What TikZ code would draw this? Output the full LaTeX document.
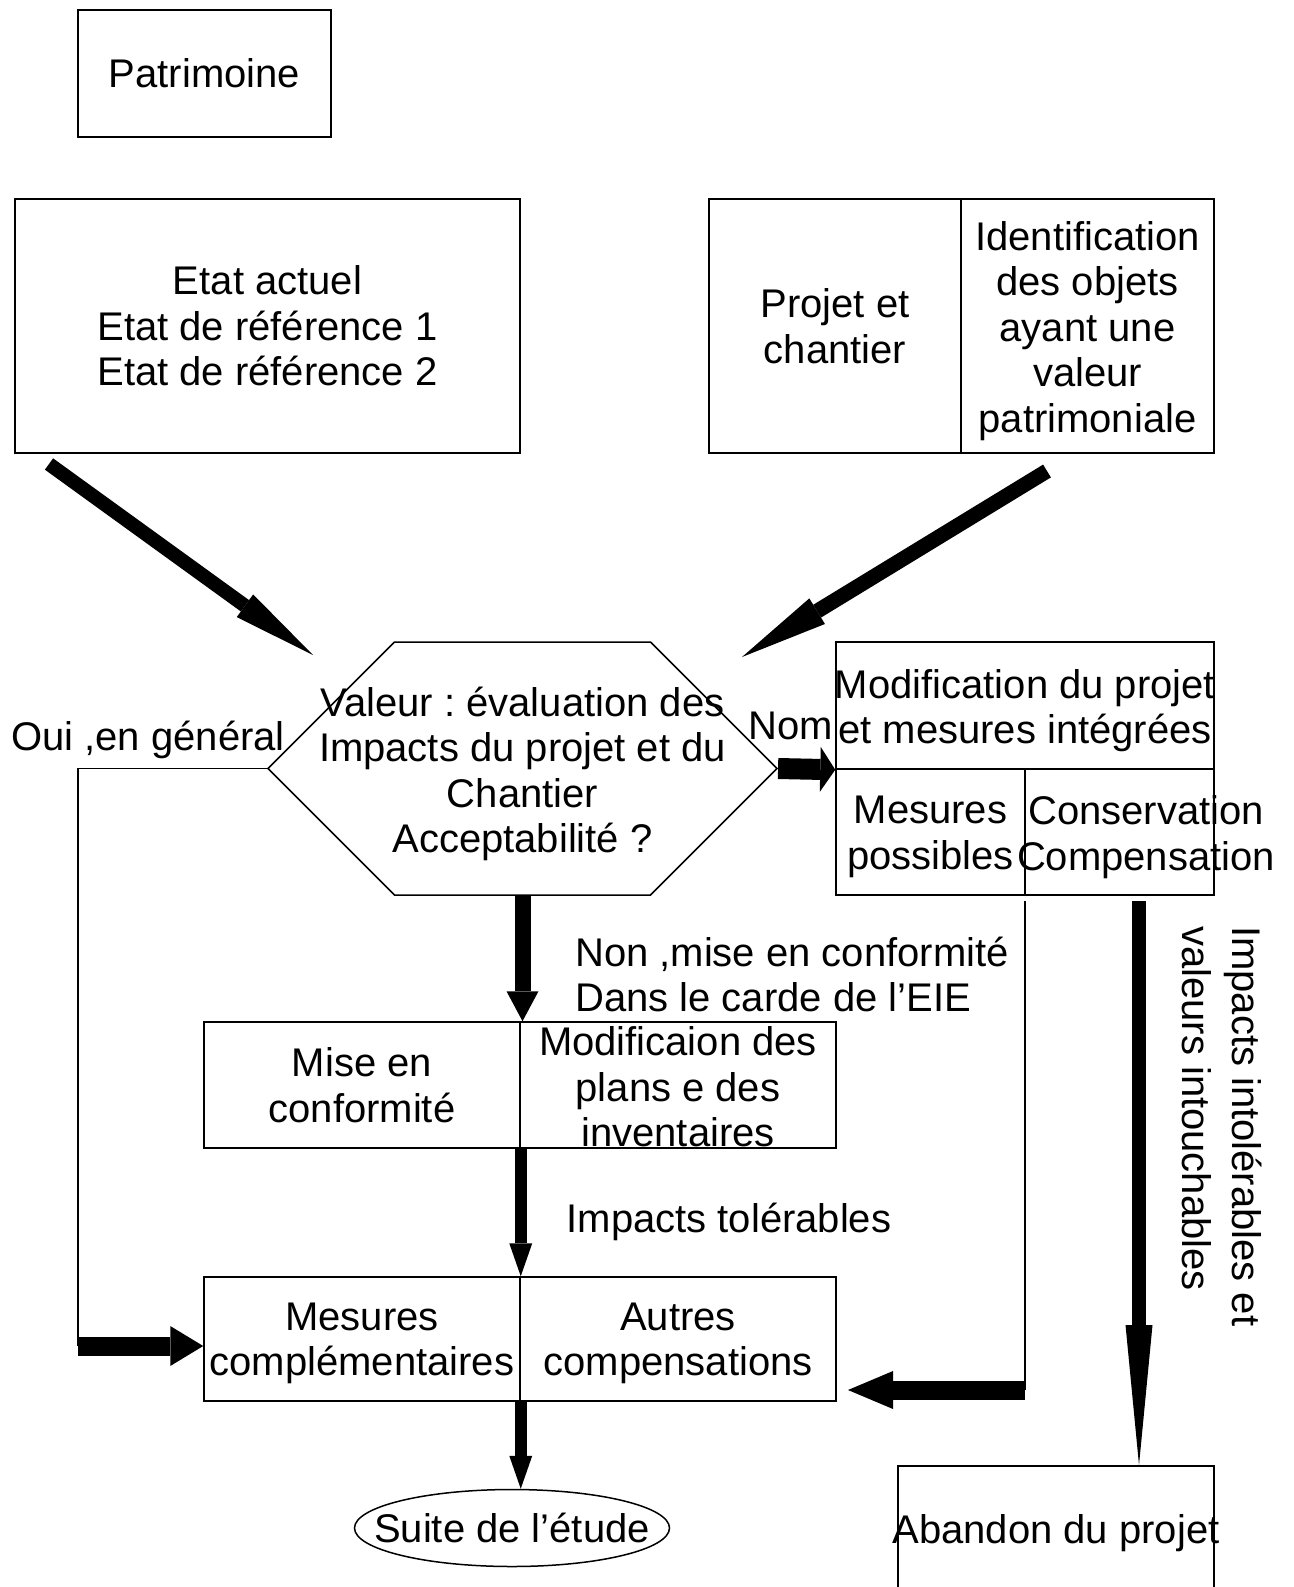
\documentclass[tikz,border=0pt]{standalone}
\usepackage{fontspec}
\setmainfont{Liberation Sans}
\frenchspacing
\usetikzlibrary{arrows.meta,shapes.geometric,shapes.symbols}

\tikzset{
  boite/.style={draw, line width=1.5pt, inner sep=0pt, align=center},
  txt/.style={inner sep=0pt, align=center},
  trait/.style={line width=1.5pt},
  fleche/.style n args={3}{line width=#1, -{Triangle[length=#2, width=#3, line width=0pt]}},
}

\begin{document}
\begin{tikzpicture}[x=1pt, y=-1pt, font=\fontsize{40}{45.5}\selectfont]
  \useasboundingbox (0,0) rectangle (1293,1587);
  \clip (0,0) rectangle (1293,1587);

  % Drawing box Patrimoine
  \node[boite, minimum width=253pt, minimum height=127pt] (patri) at (204.5,73.5) {Patrimoine};

  % Drawing box etat
  \node[boite, minimum width=505pt, minimum height=254pt] (etat) at (267.5,326) {Etat actuel\\Etat de référence 1\\Etat de référence 2};

  % Drawing boxes projet and ident
  \node[boite, minimum width=252pt, minimum height=254pt] (projet) at (835,326) {Projet et\\chantier};
  \node[boite, minimum width=253pt, minimum height=254pt] (ident) at (1087.5,326) {};
  \node[txt] (identT) at (1087.5,331) {Identification\\des objets\\ayant une\\valeur\\patrimoniale};

  % Drawing hexagon valeur
  \node[draw, line width=1.5pt, inner sep=0pt, signal, signal to=east and west, signal pointer angle=90,
        minimum width=509pt, minimum height=253pt] (valeur) at (522.5,768.5) {};
  \node[txt] (valeurT) at (522.5,774) {Valeur : évaluation des\\Impacts du projet et du\\Chantier\\Acceptabilité ?};

  % Drawing boxes modif, mesp, cons
  \node[boite, minimum width=378pt, minimum height=127pt] (modif) at (1025,705.5) {};
  \node[txt] (modifT) at (1025,710.5) {Modification du projet\\et mesures intégrées};
  \node[boite, minimum width=189pt, minimum height=126pt] (mesp) at (930.5,832) {};
  \node[txt] (mespT) at (930.5,837) {Mesures\\possibles};
  \node[boite, minimum width=189pt, minimum height=126pt] (cons) at (1119.5,832) {};
  \node[txt] (consT) at (1146,837) {Conservation\\Compensation};

  % Drawing boxes mise
  \node[boite, minimum width=316pt, minimum height=126pt] (miseL) at (362,1085) {Mise en\\conformité};
  \node[boite, minimum width=316pt, minimum height=126pt] (miseR) at (678,1085) {};
  \node[txt] (miseRT) at (678,1087) {Modificaion des\\plans e des\\inventaires};

  % Drawing boxes mesures
  \node[boite, minimum width=316pt, minimum height=124pt] (mesL) at (362,1339) {};
  \node[txt] (mesLT) at (362,1343.5) {Mesures\\complémentaires};
  \node[boite, minimum width=316pt, minimum height=124pt] (mesR) at (678,1339) {};
  \node[txt] (mesRT) at (678,1343.5) {Autres\\compensations};

  % Drawing suite and abandon
  \node[draw, ellipse, line width=1.5pt, inner sep=0pt, minimum width=315pt, minimum height=77pt] (suite) at (512,1528) {};
  \node[txt] (suiteT) at (512,1528) {Suite de l’étude};
  \node[boite, minimum width=316pt, minimum height=200pt, anchor=north] (aband) at (1056,1465) {};
  \node[txt] (abandT) at (1056,1533) {Abandon du projet};

  % Labels
  \node[txt] (oui) at (148,740) {Oui ,en général};
  \node[txt] (nom) at (791,726) {Nom};
  \node[txt, anchor=west, align=left] (non) at (575,974.5) {Non ,mise en conformité\\Dans le carde de l’EIE};
  \node[txt] (tol) at (729,1222) {Impacts tolérables};
  \node[txt, rotate=-90, anchor=north west, align=left, font=\fontsize{40}{50}\selectfont] (intolT) at (1262,926) {Impacts intolérables et\\valeurs intouchables};

  % Coordinates
  \coordinate (d1a) at (49,464);
  \coordinate (d1b) at (313,655);
  \coordinate (d2a) at (1047,471);
  \coordinate (d2b) at (742,657);
  \coordinate (ouiC) at (78,1346);
  \coordinate (retA) at (1025,901);
  \coordinate (retB) at (1025,1390);
  \coordinate (retC) at (848,1390);
  \coordinate (intol) at (1139,901);

  % Drawing arrows
  \draw[fleche={14pt}{84pt}{28pt}] (d1a) -- (d1b);
  \draw[fleche={15pt}{88pt}{30pt}] (d2a) -- (d2b);
  \draw[fleche={16pt}{30pt}{32pt}] (valeur.south) -- (valeur.south |- miseL.north);
  \draw[fleche={21pt}{15pt}{45pt}] (valeur.east) -- (modif.south west);
  \draw[trait] (valeur.west) -| (ouiC);
  \draw[fleche={19pt}{33pt}{40pt}] (ouiC) -- (ouiC -| mesL.west);
  \draw[fleche={12pt}{33pt}{23pt}] (miseL.south east) -- (mesL.north east);
  \draw[fleche={12pt}{33pt}{23pt}] (mesL.south east) -- (mesL.south east |- suite.north);
  \draw[trait] (retA) -- (retB);
  \draw[fleche={19pt}{45pt}{38pt}] (retB) -- (retC);
  \draw[fleche={14pt}{140pt}{27pt}] (intol) -- (intol |- aband.north);
\end{tikzpicture}
\end{document}
